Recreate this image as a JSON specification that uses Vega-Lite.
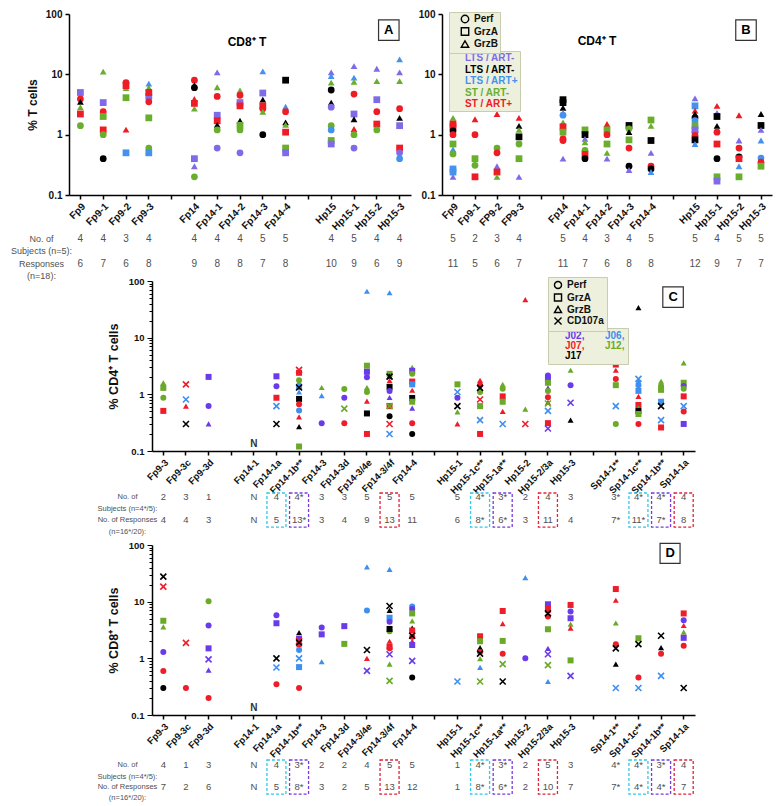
{
"$schema": "https://vega.github.io/schema/vega-lite/v6.json",
"background": "white",
"padding": {"left": 10, "top": 9, "right": 5, "bottom": 5},
"config": {
 "font": "Liberation Sans",
 "view": {"stroke": null},
 "axis": {"domainColor": "#000", "domainWidth": 1.5, "tickColor": "#000", "tickWidth": 1.5, "tickSize": 4, "labelFont": "Liberation Sans", "labelFontWeight": "bold", "labelFontSize": 10, "labelColor": "#111", "titleFont": "Liberation Sans", "titleFontWeight": "bold", "titleFontSize": 12, "titleColor": "#111", "grid": false},
 "axisX": {"labelAngle": -45, "labelPadding": 2},
 "legend": {"labelFont": "Liberation Sans"}
},
"datasets": {
 "A": [
  {"c":"Fp9","g":"LTS1/ART-","t":"GrzA","v":5.0},{"c":"Fp9","g":"ST/ART+","t":"Perf","v":3.9},{"c":"Fp9","g":"LTS2/ART-","t":"GrzB","v":3.5},{"c":"Fp9","g":"ST/ART-","t":"GrzB","v":2.85},{"c":"Fp9","g":"ST/ART+","t":"GrzA","v":2.2},{"c":"Fp9","g":"ST/ART-","t":"Perf","v":1.41},
  {"c":"Fp9-1","g":"ST/ART-","t":"GrzB","v":11.1},{"c":"Fp9-1","g":"LTS1/ART-","t":"GrzA","v":3.4},{"c":"Fp9-1","g":"ST/ART+","t":"Perf","v":2.4},{"c":"Fp9-1","g":"ST/ART-","t":"GrzA","v":2.0},{"c":"Fp9-1","g":"ST/ART+","t":"GrzA","v":1.2},{"c":"Fp9-1","g":"ST/ART-","t":"Perf","v":1.0},{"c":"Fp9-1","g":"LTS2/ART-","t":"Perf","v":0.4},
  {"c":"Fp9-2","g":"ST/ART-","t":"GrzB","v":5.9},{"c":"Fp9-2","g":"ST/ART+","t":"GrzA","v":6.5},{"c":"Fp9-2","g":"ST/ART+","t":"Perf","v":7.3},{"c":"Fp9-2","g":"ST/ART-","t":"GrzA","v":4.1},{"c":"Fp9-2","g":"ST/ART+","t":"GrzB","v":1.21},{"c":"Fp9-2","g":"LTS/ART+","t":"GrzA","v":0.5},
  {"c":"Fp9-3","g":"LTS/ART+","t":"GrzB","v":7.0},{"c":"Fp9-3","g":"ST/ART-","t":"GrzB","v":6.0},{"c":"Fp9-3","g":"LTS1/ART-","t":"GrzA","v":4.3},{"c":"Fp9-3","g":"ST/ART+","t":"GrzA","v":5.0},{"c":"Fp9-3","g":"ST/ART+","t":"Perf","v":3.5},{"c":"Fp9-3","g":"ST/ART-","t":"GrzA","v":1.9},{"c":"Fp9-3","g":"ST/ART-","t":"Perf","v":0.6},{"c":"Fp9-3","g":"LTS/ART+","t":"GrzA","v":0.5},
  {"c":"Fp14","g":"ST/ART+","t":"Perf","v":8.0},{"c":"Fp14","g":"LTS2/ART-","t":"GrzB","v":6.6},{"c":"Fp14","g":"LTS2/ART-","t":"Perf","v":6.0},{"c":"Fp14","g":"ST/ART-","t":"GrzB","v":2.7},{"c":"Fp14","g":"ST/ART+","t":"GrzB","v":3.9},{"c":"Fp14","g":"ST/ART+","t":"GrzA","v":3.3},{"c":"Fp14","g":"LTS1/ART-","t":"GrzA","v":0.4},{"c":"Fp14","g":"LTS1/ART-","t":"GrzB","v":0.3},{"c":"Fp14","g":"ST/ART-","t":"Perf","v":0.2},
  {"c":"Fp14-1","g":"LTS1/ART-","t":"GrzB","v":10.8},{"c":"Fp14-1","g":"ST/ART-","t":"GrzB","v":6.1},{"c":"Fp14-1","g":"ST/ART+","t":"Perf","v":4.3},{"c":"Fp14-1","g":"LTS1/ART-","t":"GrzA","v":2.1},{"c":"Fp14-1","g":"ST/ART+","t":"GrzA","v":1.7},{"c":"Fp14-1","g":"LTS2/ART-","t":"GrzB","v":1.45},{"c":"Fp14-1","g":"ST/ART-","t":"Perf","v":1.2},{"c":"Fp14-1","g":"LTS1/ART-","t":"Perf","v":0.6},
  {"c":"Fp14-2","g":"ST/ART-","t":"GrzB","v":5.4},{"c":"Fp14-2","g":"ST/ART+","t":"Perf","v":4.5},{"c":"Fp14-2","g":"LTS1/ART-","t":"GrzA","v":3.4},{"c":"Fp14-2","g":"ST/ART+","t":"GrzA","v":3.0},{"c":"Fp14-2","g":"LTS2/ART-","t":"GrzB","v":1.7},{"c":"Fp14-2","g":"ST/ART-","t":"GrzA","v":1.43},{"c":"Fp14-2","g":"ST/ART-","t":"Perf","v":1.2},{"c":"Fp14-2","g":"LTS1/ART-","t":"Perf","v":0.5},
  {"c":"Fp14-3","g":"LTS/ART+","t":"GrzB","v":11.2},{"c":"Fp14-3","g":"LTS1/ART-","t":"GrzA","v":4.9},{"c":"Fp14-3","g":"LTS2/ART-","t":"GrzB","v":3.8},{"c":"Fp14-3","g":"ST/ART+","t":"GrzA","v":3.0},{"c":"Fp14-3","g":"ST/ART+","t":"Perf","v":2.7},{"c":"Fp14-3","g":"ST/ART-","t":"GrzB","v":2.4},{"c":"Fp14-3","g":"LTS2/ART-","t":"Perf","v":1.0},
  {"c":"Fp14-4","g":"LTS2/ART-","t":"GrzA","v":8.0},{"c":"Fp14-4","g":"LTS/ART+","t":"GrzB","v":2.9},{"c":"Fp14-4","g":"ST/ART+","t":"Perf","v":2.4},{"c":"Fp14-4","g":"LTS2/ART-","t":"GrzB","v":1.6},{"c":"Fp14-4","g":"ST/ART-","t":"GrzB","v":1.45},{"c":"Fp14-4","g":"ST/ART+","t":"GrzA","v":1.1},{"c":"Fp14-4","g":"ST/ART-","t":"GrzA","v":0.6},{"c":"Fp14-4","g":"LTS1/ART-","t":"GrzA","v":0.5},
  {"c":"Hp15","g":"LTS1/ART-","t":"GrzB","v":10.8},{"c":"Hp15","g":"LTS/ART+","t":"GrzB","v":9.4},{"c":"Hp15","g":"ST/ART-","t":"GrzB","v":7.3},{"c":"Hp15","g":"LTS2/ART-","t":"Perf","v":5.5},{"c":"Hp15","g":"LTS2/ART-","t":"GrzB","v":3.4},{"c":"Hp15","g":"LTS1/ART-","t":"Perf","v":2.85},{"c":"Hp15","g":"ST/ART-","t":"Perf","v":1.41},{"c":"Hp15","g":"LTS/ART+","t":"Perf","v":1.2},{"c":"Hp15","g":"ST/ART-","t":"GrzA","v":0.8},{"c":"Hp15","g":"LTS1/ART-","t":"GrzA","v":0.7},
  {"c":"Hp15-1","g":"LTS1/ART-","t":"GrzB","v":13.7},{"c":"Hp15-1","g":"LTS/ART+","t":"GrzB","v":8.8},{"c":"Hp15-1","g":"ST/ART-","t":"GrzB","v":7.5},{"c":"Hp15-1","g":"ST/ART+","t":"Perf","v":4.7},{"c":"Hp15-1","g":"LTS1/ART-","t":"GrzA","v":2.2},{"c":"Hp15-1","g":"LTS2/ART-","t":"GrzB","v":1.8},{"c":"Hp15-1","g":"ST/ART+","t":"GrzB","v":1.24},{"c":"Hp15-1","g":"ST/ART-","t":"Perf","v":1.0},{"c":"Hp15-1","g":"LTS1/ART-","t":"Perf","v":0.6},
  {"c":"Hp15-2","g":"LTS1/ART-","t":"GrzB","v":12.4},{"c":"Hp15-2","g":"ST/ART-","t":"GrzB","v":7.7},{"c":"Hp15-2","g":"LTS1/ART-","t":"GrzA","v":3.8},{"c":"Hp15-2","g":"ST/ART+","t":"Perf","v":2.4},{"c":"Hp15-2","g":"ST/ART+","t":"GrzA","v":1.5},{"c":"Hp15-2","g":"ST/ART-","t":"Perf","v":1.2},
  {"c":"Hp15-3","g":"LTS/ART+","t":"GrzB","v":17.7},{"c":"Hp15-3","g":"LTS1/ART-","t":"GrzB","v":10.8},{"c":"Hp15-3","g":"ST/ART-","t":"GrzB","v":7.7},{"c":"Hp15-3","g":"ST/ART+","t":"Perf","v":2.7},{"c":"Hp15-3","g":"LTS2/ART-","t":"GrzB","v":1.9},{"c":"Hp15-3","g":"LTS1/ART-","t":"GrzA","v":1.41},{"c":"Hp15-3","g":"ST/ART+","t":"GrzA","v":0.6},{"c":"Hp15-3","g":"LTS1/ART-","t":"Perf","v":0.5},{"c":"Hp15-3","g":"LTS/ART+","t":"Perf","v":0.4}
 ],
 "B": [
  {"c":"Fp9","g":"ST/ART-","t":"GrzB","v":1.9},{"c":"Fp9","g":"ST/ART+","t":"GrzA","v":1.5},{"c":"Fp9","g":"ST/ART+","t":"GrzA","v":1.35},{"c":"Fp9","g":"LTS2/ART-","t":"Perf","v":1.15},{"c":"Fp9","g":"ST/ART+","t":"Perf","v":1.0},{"c":"Fp9","g":"ST/ART-","t":"GrzA","v":0.7},{"c":"Fp9","g":"LTS/ART+","t":"GrzB","v":0.57},{"c":"Fp9","g":"ST/ART-","t":"Perf","v":0.48},{"c":"Fp9","g":"LTS/ART+","t":"GrzA","v":0.27},{"c":"Fp9","g":"LTS/ART+","t":"GrzA","v":0.24},{"c":"Fp9","g":"LTS1/ART-","t":"GrzB","v":0.2},
  {"c":"Fp9-1","g":"ST/ART+","t":"GrzB","v":1.8},{"c":"Fp9-1","g":"ST/ART+","t":"Perf","v":1.0},{"c":"Fp9-1","g":"ST/ART-","t":"GrzA","v":0.4},{"c":"Fp9-1","g":"ST/ART-","t":"Perf","v":0.31},{"c":"Fp9-1","g":"ST/ART+","t":"GrzA","v":0.2},
  {"c":"FP9-2","g":"ST/ART+","t":"GrzB","v":2.2},{"c":"FP9-2","g":"ST/ART-","t":"Perf","v":0.6},{"c":"FP9-2","g":"ST/ART+","t":"Perf","v":0.5},{"c":"FP9-2","g":"LTS1/ART-","t":"GrzB","v":0.3},{"c":"FP9-2","g":"ST/ART+","t":"GrzA","v":0.24},{"c":"FP9-2","g":"ST/ART-","t":"GrzB","v":0.2},
  {"c":"FP9-3","g":"ST/ART+","t":"GrzB","v":1.9},{"c":"FP9-3","g":"LTS2/ART-","t":"GrzB","v":1.4},{"c":"FP9-3","g":"ST/ART-","t":"GrzB","v":1.2},{"c":"FP9-3","g":"LTS2/ART-","t":"GrzA","v":0.92},{"c":"FP9-3","g":"ST/ART-","t":"Perf","v":0.7},{"c":"FP9-3","g":"ST/ART-","t":"GrzA","v":0.4},{"c":"FP9-3","g":"LTS1/ART-","t":"GrzB","v":0.2},
  {"c":"Fp14","g":"LTS2/ART-","t":"GrzA","v":3.8},{"c":"Fp14","g":"LTS2/ART-","t":"GrzA","v":3.4},{"c":"Fp14","g":"LTS2/ART-","t":"GrzB","v":2.8},{"c":"Fp14","g":"LTS/ART+","t":"GrzB","v":2.3},{"c":"Fp14","g":"LTS/ART+","t":"Perf","v":2.1},{"c":"Fp14","g":"ST/ART-","t":"GrzB","v":1.6},{"c":"Fp14","g":"ST/ART+","t":"GrzA","v":1.35},{"c":"Fp14","g":"ST/ART-","t":"GrzA","v":1.1},{"c":"Fp14","g":"ST/ART+","t":"Perf","v":0.85},{"c":"Fp14","g":"ST/ART+","t":"Perf","v":0.8},{"c":"Fp14","g":"LTS1/ART-","t":"GrzB","v":0.4},
  {"c":"Fp14-1","g":"ST/ART-","t":"GrzA","v":1.2},{"c":"Fp14-1","g":"LTS2/ART-","t":"GrzA","v":1.0},{"c":"Fp14-1","g":"LTS1/ART-","t":"GrzB","v":0.85},{"c":"Fp14-1","g":"ST/ART-","t":"GrzB","v":0.75},{"c":"Fp14-1","g":"ST/ART-","t":"Perf","v":0.55},{"c":"Fp14-1","g":"ST/ART+","t":"GrzA","v":0.47},{"c":"Fp14-1","g":"LTS2/ART-","t":"Perf","v":0.4},
  {"c":"Fp14-2","g":"ST/ART+","t":"GrzB","v":1.5},{"c":"Fp14-2","g":"ST/ART-","t":"GrzA","v":1.2},{"c":"Fp14-2","g":"ST/ART+","t":"Perf","v":1.0},{"c":"Fp14-2","g":"ST/ART-","t":"GrzA","v":0.7},{"c":"Fp14-2","g":"ST/ART-","t":"GrzB","v":0.5},{"c":"Fp14-2","g":"LTS1/ART-","t":"GrzB","v":0.4},
  {"c":"Fp14-3","g":"LTS2/ART-","t":"GrzA","v":1.42},{"c":"Fp14-3","g":"ST/ART-","t":"Perf","v":1.25},{"c":"Fp14-3","g":"LTS2/ART-","t":"GrzB","v":1.1},{"c":"Fp14-3","g":"ST/ART-","t":"GrzA","v":0.82},{"c":"Fp14-3","g":"ST/ART+","t":"Perf","v":0.6},{"c":"Fp14-3","g":"LTS2/ART-","t":"Perf","v":0.3},{"c":"Fp14-3","g":"LTS1/ART-","t":"GrzB","v":0.26},
  {"c":"Fp14-4","g":"ST/ART-","t":"GrzA","v":1.75},{"c":"Fp14-4","g":"ST/ART-","t":"GrzB","v":1.4},{"c":"Fp14-4","g":"LTS2/ART-","t":"GrzA","v":0.8},{"c":"Fp14-4","g":"LTS1/ART-","t":"GrzB","v":0.5},{"c":"Fp14-4","g":"ST/ART+","t":"Perf","v":0.3},{"c":"Fp14-4","g":"LTS2/ART-","t":"Perf","v":0.27},{"c":"Fp14-4","g":"LTS/ART+","t":"GrzB","v":0.24},
  {"c":"Hp15","g":"LTS1/ART-","t":"GrzB","v":4.0},{"c":"Hp15","g":"LTS/ART+","t":"GrzA","v":3.0},{"c":"Hp15","g":"ST/ART+","t":"GrzB","v":2.5},{"c":"Hp15","g":"LTS2/ART-","t":"GrzB","v":2.2},{"c":"Hp15","g":"LTS2/ART-","t":"Perf","v":1.9},{"c":"Hp15","g":"LTS/ART+","t":"Perf","v":1.7},{"c":"Hp15","g":"ST/ART-","t":"GrzA","v":1.4},{"c":"Hp15","g":"LTS1/ART-","t":"GrzA","v":1.2},{"c":"Hp15","g":"LTS1/ART-","t":"Perf","v":1.1},{"c":"Hp15","g":"ST/ART+","t":"Perf","v":0.97},{"c":"Hp15","g":"LTS2/ART-","t":"GrzA","v":0.82},{"c":"Hp15","g":"LTS/ART+","t":"GrzB","v":0.7},
  {"c":"Hp15-1","g":"ST/ART+","t":"GrzB","v":3.0},{"c":"Hp15-1","g":"LTS1/ART-","t":"GrzB","v":2.3},{"c":"Hp15-1","g":"LTS2/ART-","t":"GrzA","v":2.0},{"c":"Hp15-1","g":"LTS2/ART-","t":"GrzB","v":1.4},{"c":"Hp15-1","g":"ST/ART+","t":"Perf","v":1.1},{"c":"Hp15-1","g":"ST/ART+","t":"GrzA","v":0.7},{"c":"Hp15-1","g":"LTS2/ART-","t":"Perf","v":0.4},{"c":"Hp15-1","g":"ST/ART-","t":"GrzA","v":0.2},{"c":"Hp15-1","g":"LTS1/ART-","t":"GrzA","v":0.17},
  {"c":"Hp15-2","g":"ST/ART+","t":"GrzB","v":2.1},{"c":"Hp15-2","g":"LTS1/ART-","t":"GrzB","v":0.8},{"c":"Hp15-2","g":"ST/ART+","t":"Perf","v":0.6},{"c":"Hp15-2","g":"LTS2/ART-","t":"Perf","v":0.43},{"c":"Hp15-2","g":"ST/ART+","t":"GrzA","v":0.4},{"c":"Hp15-2","g":"LTS/ART+","t":"GrzB","v":0.3},{"c":"Hp15-2","g":"ST/ART-","t":"GrzA","v":0.2},
  {"c":"Hp15-3","g":"LTS2/ART-","t":"GrzB","v":2.2},{"c":"Hp15-3","g":"LTS2/ART-","t":"GrzA","v":1.42},{"c":"Hp15-3","g":"LTS1/ART-","t":"GrzB","v":1.2},{"c":"Hp15-3","g":"LTS/ART+","t":"GrzB","v":0.8},{"c":"Hp15-3","g":"LTS/ART+","t":"Perf","v":0.41},{"c":"Hp15-3","g":"ST/ART+","t":"Perf","v":0.35},{"c":"Hp15-3","g":"ST/ART-","t":"GrzA","v":0.3}
 ],
 "C": [
  {"c":"Fp9-3","d":"J12","t":"GrzB","v":1.6},{"c":"Fp9-3","d":"J12","t":"GrzA","v":1.3},{"c":"Fp9-3","d":"J12","t":"Perf","v":0.87},{"c":"Fp9-3","d":"J07","t":"GrzA","v":0.51},
  {"c":"Fp9-3c","d":"J07","t":"CD107a","v":1.5},{"c":"Fp9-3c","d":"J06","t":"CD107a","v":0.81},{"c":"Fp9-3c","d":"J07","t":"GrzB","v":0.62},{"c":"Fp9-3c","d":"J17","t":"CD107a","v":0.3},
  {"c":"Fp9-3d","d":"J02","t":"GrzA","v":2.03},{"c":"Fp9-3d","d":"J02","t":"Perf","v":0.62},{"c":"Fp9-3d","d":"J02","t":"GrzB","v":0.3},
  {"c":"Fp14-1a","d":"J02","t":"GrzA","v":2.08},{"c":"Fp14-1a","d":"J02","t":"Perf","v":1.39},{"c":"Fp14-1a","d":"J07","t":"GrzA","v":0.87},{"c":"Fp14-1a","d":"J06","t":"CD107a","v":0.62},{"c":"Fp14-1a","d":"J17","t":"CD107a","v":0.3},
  {"c":"Fp14-1b**","d":"J07","t":"CD107a","v":2.7},{"c":"Fp14-1b**","d":"J07","t":"GrzA","v":2.4},{"c":"Fp14-1b**","d":"J12","t":"GrzB","v":1.65},{"c":"Fp14-1b**","d":"J12","t":"Perf","v":1.77},{"c":"Fp14-1b**","d":"J06","t":"GrzA","v":1.35},{"c":"Fp14-1b**","d":"J17","t":"CD107a","v":1.32},{"c":"Fp14-1b**","d":"J06","t":"GrzB","v":1.1},{"c":"Fp14-1b**","d":"J17","t":"GrzA","v":0.83},{"c":"Fp14-1b**","d":"J07","t":"Perf","v":0.67},{"c":"Fp14-1b**","d":"J06","t":"Perf","v":0.52},{"c":"Fp14-1b**","d":"J07","t":"GrzB","v":0.4},{"c":"Fp14-1b**","d":"J17","t":"GrzB","v":0.27},{"c":"Fp14-1b**","d":"J12","t":"GrzA","v":0.12},
  {"c":"Fp14-3","d":"J12","t":"GrzB","v":1.32},{"c":"Fp14-3","d":"J06","t":"GrzB","v":0.95},{"c":"Fp14-3","d":"J02","t":"Perf","v":0.31},
  {"c":"Fp14-3d","d":"J12","t":"Perf","v":1.24},{"c":"Fp14-3d","d":"J02","t":"Perf","v":0.87},{"c":"Fp14-3d","d":"J12","t":"CD107a","v":0.56},{"c":"Fp14-3d","d":"J07","t":"Perf","v":0.31},
  {"c":"Fp14-3/4e","d":"J06","t":"GrzB","v":66},{"c":"Fp14-3/4e","d":"J12","t":"GrzA","v":3.2},{"c":"Fp14-3/4e","d":"J02","t":"GrzA","v":2.5},{"c":"Fp14-3/4e","d":"J02","t":"Perf","v":2.0},{"c":"Fp14-3/4e","d":"J12","t":"GrzB","v":1.32},{"c":"Fp14-3/4e","d":"J12","t":"Perf","v":1.1},{"c":"Fp14-3/4e","d":"J07","t":"GrzB","v":0.76},{"c":"Fp14-3/4e","d":"J17","t":"GrzA","v":0.46},{"c":"Fp14-3/4e","d":"J07","t":"GrzA","v":0.2},
  {"c":"Fp14-3/4f","d":"J06","t":"GrzB","v":62},{"c":"Fp14-3/4f","d":"J12","t":"GrzA","v":2.3},{"c":"Fp14-3/4f","d":"J17","t":"GrzB","v":2.1},{"c":"Fp14-3/4f","d":"J17","t":"CD107a","v":2.05},{"c":"Fp14-3/4f","d":"J07","t":"GrzB","v":1.75},{"c":"Fp14-3/4f","d":"J17","t":"GrzA","v":1.35},{"c":"Fp14-3/4f","d":"J02","t":"Perf","v":1.15},{"c":"Fp14-3/4f","d":"J02","t":"GrzB","v":0.88},{"c":"Fp14-3/4f","d":"J07","t":"GrzA","v":0.62},{"c":"Fp14-3/4f","d":"J12","t":"CD107a","v":0.62},{"c":"Fp14-3/4f","d":"J17","t":"Perf","v":0.41},{"c":"Fp14-3/4f","d":"J07","t":"CD107a","v":0.3},{"c":"Fp14-3/4f","d":"J06","t":"CD107a","v":0.2},
  {"c":"Fp14-4","d":"J12","t":"GrzB","v":3.0},{"c":"Fp14-4","d":"J02","t":"GrzA","v":2.6},{"c":"Fp14-4","d":"J12","t":"Perf","v":2.3},{"c":"Fp14-4","d":"J07","t":"GrzA","v":1.68},{"c":"Fp14-4","d":"J06","t":"GrzA","v":1.5},{"c":"Fp14-4","d":"J07","t":"GrzB","v":1.18},{"c":"Fp14-4","d":"J17","t":"GrzA","v":0.86},{"c":"Fp14-4","d":"J12","t":"GrzA","v":0.74},{"c":"Fp14-4","d":"J02","t":"GrzB","v":0.57},{"c":"Fp14-4","d":"J07","t":"Perf","v":0.31},{"c":"Fp14-4","d":"J17","t":"Perf","v":0.2},
  {"c":"Hp15-1","d":"J12","t":"GrzA","v":1.5},{"c":"Hp15-1","d":"J06","t":"CD107a","v":1.1},{"c":"Hp15-1","d":"J02","t":"Perf","v":0.87},{"c":"Hp15-1","d":"J17","t":"CD107a","v":0.62},{"c":"Hp15-1","d":"J12","t":"GrzB","v":0.49},{"c":"Hp15-1","d":"J07","t":"GrzB","v":0.3},
  {"c":"Hp15-1c**","d":"J07","t":"GrzB","v":1.77},{"c":"Hp15-1c**","d":"J07","t":"Perf","v":1.45},{"c":"Hp15-1c**","d":"J17","t":"CD107a","v":1.3},{"c":"Hp15-1c**","d":"J12","t":"Perf","v":1.1},{"c":"Hp15-1c**","d":"J07","t":"CD107a","v":0.81},{"c":"Hp15-1c**","d":"J12","t":"GrzA","v":0.62},{"c":"Hp15-1c**","d":"J06","t":"CD107a","v":0.35},{"c":"Hp15-1c**","d":"J07","t":"GrzA","v":0.2},
  {"c":"Hp15-1a**","d":"J12","t":"GrzB","v":1.5},{"c":"Hp15-1a**","d":"J12","t":"Perf","v":1.25},{"c":"Hp15-1a**","d":"J07","t":"GrzA","v":0.92},{"c":"Hp15-1a**","d":"J12","t":"GrzA","v":0.74},{"c":"Hp15-1a**","d":"J07","t":"GrzB","v":0.5},{"c":"Hp15-1a**","d":"J06","t":"CD107a","v":0.3},
  {"c":"Hp15-2","d":"J07","t":"GrzB","v":47},{"c":"Hp15-2","d":"J12","t":"GrzB","v":0.55},{"c":"Hp15-2","d":"J07","t":"CD107a","v":0.3},
  {"c":"Hp15-2/3a","d":"J02","t":"Perf","v":2.15},{"c":"Hp15-2/3a","d":"J02","t":"GrzA","v":1.85},{"c":"Hp15-2/3a","d":"J12","t":"GrzA","v":1.6},{"c":"Hp15-2/3a","d":"J02","t":"GrzB","v":1.3},{"c":"Hp15-2/3a","d":"J12","t":"Perf","v":1.15},{"c":"Hp15-2/3a","d":"J07","t":"Perf","v":0.89},{"c":"Hp15-2/3a","d":"J07","t":"GrzB","v":0.72},{"c":"Hp15-2/3a","d":"J12","t":"CD107a","v":0.69},{"c":"Hp15-2/3a","d":"J06","t":"CD107a","v":0.51},{"c":"Hp15-2/3a","d":"J07","t":"GrzA","v":0.31},{"c":"Hp15-2/3a","d":"J02","t":"CD107a","v":0.25},
  {"c":"Hp15-3","d":"J12","t":"GrzB","v":2.66},{"c":"Hp15-3","d":"J02","t":"Perf","v":1.45},{"c":"Hp15-3","d":"J02","t":"CD107a","v":0.71},{"c":"Hp15-3","d":"J17","t":"GrzB","v":0.35},
  {"c":"Sp14-1**","d":"J12","t":"GrzB","v":4.96},{"c":"Sp14-1**","d":"J07","t":"GrzA","v":3.35},{"c":"Sp14-1**","d":"J07","t":"GrzB","v":2.66},{"c":"Sp14-1**","d":"J07","t":"Perf","v":1.87},{"c":"Sp14-1**","d":"J12","t":"GrzA","v":1.45},{"c":"Sp14-1**","d":"J06","t":"CD107a","v":0.62},{"c":"Sp14-1**","d":"J12","t":"Perf","v":0.3},
  {"c":"Sp14-1c**","d":"J17","t":"GrzB","v":34},{"c":"Sp14-1c**","d":"J06","t":"CD107a","v":1.87},{"c":"Sp14-1c**","d":"J06","t":"GrzB","v":1.7},{"c":"Sp14-1c**","d":"J06","t":"Perf","v":1.45},{"c":"Sp14-1c**","d":"J06","t":"GrzA","v":1.15},{"c":"Sp14-1c**","d":"J07","t":"GrzB","v":0.92},{"c":"Sp14-1c**","d":"J07","t":"GrzA","v":0.65},{"c":"Sp14-1c**","d":"J12","t":"GrzB","v":0.58},{"c":"Sp14-1c**","d":"J17","t":"GrzA","v":0.51},{"c":"Sp14-1c**","d":"J12","t":"GrzA","v":0.45},{"c":"Sp14-1c**","d":"J07","t":"Perf","v":0.3},
  {"c":"Sp14-1b**","d":"J12","t":"GrzB","v":1.7},{"c":"Sp14-1b**","d":"J12","t":"Perf","v":1.4},{"c":"Sp14-1b**","d":"J12","t":"GrzA","v":1.2},{"c":"Sp14-1b**","d":"J06","t":"GrzA","v":0.74},{"c":"Sp14-1b**","d":"J17","t":"CD107a","v":0.62},{"c":"Sp14-1b**","d":"J06","t":"CD107a","v":0.35},{"c":"Sp14-1b**","d":"J07","t":"GrzA","v":0.26},
  {"c":"Sp14-1a","d":"J12","t":"GrzB","v":3.58},{"c":"Sp14-1a","d":"J12","t":"GrzA","v":1.6},{"c":"Sp14-1a","d":"J02","t":"Perf","v":1.4},{"c":"Sp14-1a","d":"J12","t":"Perf","v":1.25},{"c":"Sp14-1a","d":"J07","t":"GrzA","v":0.92},{"c":"Sp14-1a","d":"J06","t":"CD107a","v":0.62},{"c":"Sp14-1a","d":"J07","t":"Perf","v":0.5},{"c":"Sp14-1a","d":"J02","t":"GrzA","v":0.3}
 ],
 "D": [
  {"c":"Fp9-3","d":"J17","t":"CD107a","v":27.6},{"c":"Fp9-3","d":"J07","t":"CD107a","v":18.4},{"c":"Fp9-3","d":"J12","t":"GrzA","v":4.6},{"c":"Fp9-3","d":"J12","t":"GrzB","v":3.6},{"c":"Fp9-3","d":"J02","t":"Perf","v":1.3},{"c":"Fp9-3","d":"J07","t":"Perf","v":0.6},{"c":"Fp9-3","d":"J17","t":"Perf","v":0.3},
  {"c":"Fp9-3c","d":"J07","t":"CD107a","v":1.87},{"c":"Fp9-3c","d":"J07","t":"Perf","v":0.3},
  {"c":"Fp9-3d","d":"J12","t":"Perf","v":10.2},{"c":"Fp9-3d","d":"J02","t":"Perf","v":3.8},{"c":"Fp9-3d","d":"J02","t":"GrzA","v":1.5},{"c":"Fp9-3d","d":"J02","t":"CD107a","v":0.96},{"c":"Fp9-3d","d":"J02","t":"GrzB","v":0.62},{"c":"Fp9-3d","d":"J07","t":"Perf","v":0.2},
  {"c":"Fp14-1a","d":"J02","t":"Perf","v":5.75},{"c":"Fp14-1a","d":"J02","t":"GrzA","v":4.16},{"c":"Fp14-1a","d":"J17","t":"CD107a","v":1.0},{"c":"Fp14-1a","d":"J06","t":"CD107a","v":0.69},{"c":"Fp14-1a","d":"J07","t":"Perf","v":0.35},
  {"c":"Fp14-1b**","d":"J17","t":"GrzB","v":2.84},{"c":"Fp14-1b**","d":"J02","t":"GrzA","v":2.2},{"c":"Fp14-1b**","d":"J07","t":"CD107a","v":2.03},{"c":"Fp14-1b**","d":"J17","t":"CD107a","v":1.9},{"c":"Fp14-1b**","d":"J07","t":"GrzB","v":1.75},{"c":"Fp14-1b**","d":"J06","t":"Perf","v":1.41},{"c":"Fp14-1b**","d":"J06","t":"CD107a","v":1.0},{"c":"Fp14-1b**","d":"J06","t":"GrzA","v":0.7},{"c":"Fp14-1b**","d":"J07","t":"Perf","v":0.3},
  {"c":"Fp14-3","d":"J02","t":"Perf","v":3.5},{"c":"Fp14-3","d":"J02","t":"GrzA","v":2.65},{"c":"Fp14-3","d":"J06","t":"GrzB","v":0.87},
  {"c":"Fp14-3d","d":"J02","t":"GrzA","v":3.7},{"c":"Fp14-3d","d":"J12","t":"GrzA","v":1.8},
  {"c":"Fp14-3/4e","d":"J06","t":"GrzB","v":41},{"c":"Fp14-3/4e","d":"J06","t":"Perf","v":7.0},{"c":"Fp14-3/4e","d":"J17","t":"CD107a","v":1.4},{"c":"Fp14-3/4e","d":"J07","t":"GrzB","v":1.0},{"c":"Fp14-3/4e","d":"J02","t":"CD107a","v":0.6},
  {"c":"Fp14-3/4f","d":"J06","t":"GrzB","v":37},{"c":"Fp14-3/4f","d":"J17","t":"CD107a","v":8.4},{"c":"Fp14-3/4f","d":"J17","t":"GrzB","v":7.0},{"c":"Fp14-3/4f","d":"J06","t":"GrzA","v":5.2},{"c":"Fp14-3/4f","d":"J02","t":"Perf","v":4.4},{"c":"Fp14-3/4f","d":"J12","t":"Perf","v":3.0},{"c":"Fp14-3/4f","d":"J17","t":"GrzA","v":3.3},{"c":"Fp14-3/4f","d":"J07","t":"GrzB","v":2.0},{"c":"Fp14-3/4f","d":"J07","t":"GrzA","v":1.6},{"c":"Fp14-3/4f","d":"J07","t":"Perf","v":1.5},{"c":"Fp14-3/4f","d":"J02","t":"CD107a","v":1.18},{"c":"Fp14-3/4f","d":"J12","t":"GrzB","v":0.79},{"c":"Fp14-3/4f","d":"J12","t":"CD107a","v":0.4},
  {"c":"Fp14-4","d":"J06","t":"Perf","v":8.2},{"c":"Fp14-4","d":"J02","t":"Perf","v":7.4},{"c":"Fp14-4","d":"J12","t":"GrzA","v":6.2},{"c":"Fp14-4","d":"J12","t":"GrzB","v":4.6},{"c":"Fp14-4","d":"J17","t":"GrzB","v":3.4},{"c":"Fp14-4","d":"J07","t":"GrzA","v":3.1},{"c":"Fp14-4","d":"J17","t":"CD107a","v":2.5},{"c":"Fp14-4","d":"J07","t":"Perf","v":2.4},{"c":"Fp14-4","d":"J07","t":"GrzB","v":2.0},{"c":"Fp14-4","d":"J02","t":"GrzA","v":1.72},{"c":"Fp14-4","d":"J02","t":"CD107a","v":0.9},{"c":"Fp14-4","d":"J17","t":"Perf","v":0.46},
  {"c":"Hp15-1","d":"J06","t":"CD107a","v":0.39},
  {"c":"Hp15-1c**","d":"J07","t":"GrzA","v":2.45},{"c":"Hp15-1c**","d":"J12","t":"GrzA","v":2.0},{"c":"Hp15-1c**","d":"J17","t":"GrzB","v":1.55},{"c":"Hp15-1c**","d":"J07","t":"Perf","v":1.3},{"c":"Hp15-1c**","d":"J17","t":"CD107a","v":1.21},{"c":"Hp15-1c**","d":"J12","t":"GrzB","v":0.99},{"c":"Hp15-1c**","d":"J06","t":"GrzB","v":0.69},{"c":"Hp15-1c**","d":"J12","t":"CD107a","v":0.39},
  {"c":"Hp15-1a**","d":"J07","t":"GrzA","v":6.85},{"c":"Hp15-1a**","d":"J07","t":"GrzB","v":4.1},{"c":"Hp15-1a**","d":"J12","t":"GrzA","v":2.03},{"c":"Hp15-1a**","d":"J07","t":"Perf","v":1.21},{"c":"Hp15-1a**","d":"J12","t":"CD107a","v":0.79},{"c":"Hp15-1a**","d":"J17","t":"CD107a","v":0.39},
  {"c":"Hp15-2","d":"J06","t":"GrzB","v":26.5},{"c":"Hp15-2","d":"J02","t":"Perf","v":1.0},
  {"c":"Hp15-2/3a","d":"J02","t":"GrzA","v":9.0},{"c":"Hp15-2/3a","d":"J07","t":"GrzA","v":7.6},{"c":"Hp15-2/3a","d":"J07","t":"GrzB","v":7.0},{"c":"Hp15-2/3a","d":"J17","t":"CD107a","v":6.2},{"c":"Hp15-2/3a","d":"J07","t":"Perf","v":5.5},{"c":"Hp15-2/3a","d":"J12","t":"GrzA","v":3.26},{"c":"Hp15-2/3a","d":"J02","t":"GrzB","v":1.5},{"c":"Hp15-2/3a","d":"J02","t":"CD107a","v":1.18},{"c":"Hp15-2/3a","d":"J12","t":"CD107a","v":0.76},{"c":"Hp15-2/3a","d":"J06","t":"GrzB","v":0.39},
  {"c":"Hp15-3","d":"J07","t":"GrzA","v":8.75},{"c":"Hp15-3","d":"J02","t":"Perf","v":6.7},{"c":"Hp15-3","d":"J02","t":"GrzA","v":5.1},{"c":"Hp15-3","d":"J12","t":"GrzB","v":4.0},{"c":"Hp15-3","d":"J07","t":"GrzB","v":3.4},{"c":"Hp15-3","d":"J12","t":"GrzA","v":0.92},{"c":"Hp15-3","d":"J02","t":"CD107a","v":0.49},
  {"c":"Sp14-1**","d":"J07","t":"GrzA","v":16.7},{"c":"Sp14-1**","d":"J07","t":"GrzB","v":10.6},{"c":"Sp14-1**","d":"J12","t":"GrzB","v":4.2},{"c":"Sp14-1**","d":"J07","t":"Perf","v":1.78},{"c":"Sp14-1**","d":"J17","t":"CD107a","v":1.5},{"c":"Sp14-1**","d":"J17","t":"GrzB","v":0.79},{"c":"Sp14-1**","d":"J06","t":"CD107a","v":0.3},
  {"c":"Sp14-1c**","d":"J12","t":"GrzA","v":2.26},{"c":"Sp14-1c**","d":"J17","t":"CD107a","v":1.78},{"c":"Sp14-1c**","d":"J07","t":"Perf","v":0.46},{"c":"Sp14-1c**","d":"J06","t":"CD107a","v":0.3},
  {"c":"Sp14-1b**","d":"J17","t":"CD107a","v":2.5},{"c":"Sp14-1b**","d":"J17","t":"GrzB","v":1.55},{"c":"Sp14-1b**","d":"J07","t":"Perf","v":1.21},{"c":"Sp14-1b**","d":"J06","t":"CD107a","v":0.49},
  {"c":"Sp14-1a","d":"J07","t":"GrzA","v":6.2},{"c":"Sp14-1a","d":"J02","t":"Perf","v":4.7},{"c":"Sp14-1a","d":"J07","t":"GrzB","v":3.8},{"c":"Sp14-1a","d":"J12","t":"GrzB","v":2.9},{"c":"Sp14-1a","d":"J02","t":"GrzA","v":2.3},{"c":"Sp14-1a","d":"J07","t":"Perf","v":1.67},{"c":"Sp14-1a","d":"J17","t":"CD107a","v":0.3}
 ],
 "tA": [
  {"c":"Fp9","r":"Subjects","n":"4"},{"c":"Fp9-1","r":"Subjects","n":"4"},{"c":"Fp9-2","r":"Subjects","n":"3"},{"c":"Fp9-3","r":"Subjects","n":"4"},{"c":"Fp14","r":"Subjects","n":"4"},{"c":"Fp14-1","r":"Subjects","n":"4"},{"c":"Fp14-2","r":"Subjects","n":"4"},{"c":"Fp14-3","r":"Subjects","n":"5"},{"c":"Fp14-4","r":"Subjects","n":"5"},{"c":"Hp15","r":"Subjects","n":"4"},{"c":"Hp15-1","r":"Subjects","n":"5"},{"c":"Hp15-2","r":"Subjects","n":"4"},{"c":"Hp15-3","r":"Subjects","n":"4"},
  {"c":"Fp9","r":"Responses","n":"6"},{"c":"Fp9-1","r":"Responses","n":"7"},{"c":"Fp9-2","r":"Responses","n":"6"},{"c":"Fp9-3","r":"Responses","n":"8"},{"c":"Fp14","r":"Responses","n":"9"},{"c":"Fp14-1","r":"Responses","n":"8"},{"c":"Fp14-2","r":"Responses","n":"8"},{"c":"Fp14-3","r":"Responses","n":"7"},{"c":"Fp14-4","r":"Responses","n":"8"},{"c":"Hp15","r":"Responses","n":"10"},{"c":"Hp15-1","r":"Responses","n":"9"},{"c":"Hp15-2","r":"Responses","n":"6"},{"c":"Hp15-3","r":"Responses","n":"9"}
 ],
 "tB": [
  {"c":"Fp9","r":"Subjects","n":"5"},{"c":"Fp9-1","r":"Subjects","n":"2"},{"c":"FP9-2","r":"Subjects","n":"3"},{"c":"FP9-3","r":"Subjects","n":"4"},{"c":"Fp14","r":"Subjects","n":"5"},{"c":"Fp14-1","r":"Subjects","n":"4"},{"c":"Fp14-2","r":"Subjects","n":"3"},{"c":"Fp14-3","r":"Subjects","n":"4"},{"c":"Fp14-4","r":"Subjects","n":"5"},{"c":"Hp15","r":"Subjects","n":"5"},{"c":"Hp15-1","r":"Subjects","n":"4"},{"c":"Hp15-2","r":"Subjects","n":"5"},{"c":"Hp15-3","r":"Subjects","n":"5"},
  {"c":"Fp9","r":"Responses","n":"11"},{"c":"Fp9-1","r":"Responses","n":"5"},{"c":"FP9-2","r":"Responses","n":"6"},{"c":"FP9-3","r":"Responses","n":"7"},{"c":"Fp14","r":"Responses","n":"11"},{"c":"Fp14-1","r":"Responses","n":"7"},{"c":"Fp14-2","r":"Responses","n":"6"},{"c":"Fp14-3","r":"Responses","n":"8"},{"c":"Fp14-4","r":"Responses","n":"8"},{"c":"Hp15","r":"Responses","n":"12"},{"c":"Hp15-1","r":"Responses","n":"9"},{"c":"Hp15-2","r":"Responses","n":"7"},{"c":"Hp15-3","r":"Responses","n":"7"}
 ],
 "tC": [
  {"c":"Fp9-3","r":"Subjects","n":"2"},{"c":"Fp9-3c","r":"Subjects","n":"3"},{"c":"Fp9-3d","r":"Subjects","n":"1"},{"c":"Fp14-1","r":"Subjects","n":"N"},{"c":"Fp14-1a","r":"Subjects","n":"4"},{"c":"Fp14-1b**","r":"Subjects","n":"4*"},{"c":"Fp14-3","r":"Subjects","n":"3"},{"c":"Fp14-3d","r":"Subjects","n":"3"},{"c":"Fp14-3/4e","r":"Subjects","n":"5"},{"c":"Fp14-3/4f","r":"Subjects","n":"5"},{"c":"Fp14-4","r":"Subjects","n":"5"},{"c":"Hp15-1","r":"Subjects","n":"5"},{"c":"Hp15-1c**","r":"Subjects","n":"4*"},{"c":"Hp15-1a**","r":"Subjects","n":"3*"},{"c":"Hp15-2","r":"Subjects","n":"2"},{"c":"Hp15-2/3a","r":"Subjects","n":"4"},{"c":"Hp15-3","r":"Subjects","n":"3"},{"c":"Sp14-1**","r":"Subjects","n":"3*"},{"c":"Sp14-1c**","r":"Subjects","n":"4*"},{"c":"Sp14-1b**","r":"Subjects","n":"4*"},{"c":"Sp14-1a","r":"Subjects","n":"4"},
  {"c":"Fp9-3","r":"Responses","n":"4"},{"c":"Fp9-3c","r":"Responses","n":"4"},{"c":"Fp9-3d","r":"Responses","n":"3"},{"c":"Fp14-1","r":"Responses","n":"N"},{"c":"Fp14-1a","r":"Responses","n":"5"},{"c":"Fp14-1b**","r":"Responses","n":"13*"},{"c":"Fp14-3","r":"Responses","n":"3"},{"c":"Fp14-3d","r":"Responses","n":"4"},{"c":"Fp14-3/4e","r":"Responses","n":"9"},{"c":"Fp14-3/4f","r":"Responses","n":"13"},{"c":"Fp14-4","r":"Responses","n":"11"},{"c":"Hp15-1","r":"Responses","n":"6"},{"c":"Hp15-1c**","r":"Responses","n":"8*"},{"c":"Hp15-1a**","r":"Responses","n":"6*"},{"c":"Hp15-2","r":"Responses","n":"3"},{"c":"Hp15-2/3a","r":"Responses","n":"11"},{"c":"Hp15-3","r":"Responses","n":"4"},{"c":"Sp14-1**","r":"Responses","n":"7*"},{"c":"Sp14-1c**","r":"Responses","n":"11*"},{"c":"Sp14-1b**","r":"Responses","n":"7*"},{"c":"Sp14-1a","r":"Responses","n":"8"}
 ],
 "tD": [
  {"c":"Fp9-3","r":"Subjects","n":"4"},{"c":"Fp9-3c","r":"Subjects","n":"1"},{"c":"Fp9-3d","r":"Subjects","n":"3"},{"c":"Fp14-1","r":"Subjects","n":"N"},{"c":"Fp14-1a","r":"Subjects","n":"4"},{"c":"Fp14-1b**","r":"Subjects","n":"3*"},{"c":"Fp14-3","r":"Subjects","n":"2"},{"c":"Fp14-3d","r":"Subjects","n":"2"},{"c":"Fp14-3/4e","r":"Subjects","n":"4"},{"c":"Fp14-3/4f","r":"Subjects","n":"5"},{"c":"Fp14-4","r":"Subjects","n":"5"},{"c":"Hp15-1","r":"Subjects","n":"1"},{"c":"Hp15-1c**","r":"Subjects","n":"4*"},{"c":"Hp15-1a**","r":"Subjects","n":"3*"},{"c":"Hp15-2","r":"Subjects","n":"2"},{"c":"Hp15-2/3a","r":"Subjects","n":"5"},{"c":"Hp15-3","r":"Subjects","n":"3"},{"c":"Sp14-1**","r":"Subjects","n":"4*"},{"c":"Sp14-1c**","r":"Subjects","n":"4*"},{"c":"Sp14-1b**","r":"Subjects","n":"3*"},{"c":"Sp14-1a","r":"Subjects","n":"4"},
  {"c":"Fp9-3","r":"Responses","n":"7"},{"c":"Fp9-3c","r":"Responses","n":"2"},{"c":"Fp9-3d","r":"Responses","n":"6"},{"c":"Fp14-1","r":"Responses","n":"N"},{"c":"Fp14-1a","r":"Responses","n":"5"},{"c":"Fp14-1b**","r":"Responses","n":"8*"},{"c":"Fp14-3","r":"Responses","n":"3"},{"c":"Fp14-3d","r":"Responses","n":"2"},{"c":"Fp14-3/4e","r":"Responses","n":"5"},{"c":"Fp14-3/4f","r":"Responses","n":"13"},{"c":"Fp14-4","r":"Responses","n":"12"},{"c":"Hp15-1","r":"Responses","n":"1"},{"c":"Hp15-1c**","r":"Responses","n":"8*"},{"c":"Hp15-1a**","r":"Responses","n":"6*"},{"c":"Hp15-2","r":"Responses","n":"2"},{"c":"Hp15-2/3a","r":"Responses","n":"10"},{"c":"Hp15-3","r":"Responses","n":"7"},{"c":"Sp14-1**","r":"Responses","n":"7*"},{"c":"Sp14-1c**","r":"Responses","n":"4*"},{"c":"Sp14-1b**","r":"Responses","n":"4*"},{"c":"Sp14-1a","r":"Responses","n":"7"}
 ],
 "boxes": [
  {"c":"Fp14-1a","k":"cyan"},{"c":"Fp14-1b**","k":"purple"},{"c":"Fp14-3/4f","k":"red"},{"c":"Hp15-1c**","k":"cyan"},{"c":"Hp15-1a**","k":"purple"},{"c":"Hp15-2/3a","k":"red"},{"c":"Sp14-1c**","k":"cyan"},{"c":"Sp14-1b**","k":"purple"},{"c":"Sp14-1a","k":"red"}
 ],
 "notN": [{"c":"Fp14-1","n":"N"}]
},
"bounds": "flush",
"spacing": 0,
"center": true,
"resolve": {"scale": {"color": "independent", "shape": "independent"}},
"vconcat": [
 {
  "width": 709, "height": 181,
  "layer": [
   {
    "layer": [
     {
      "data": {"name": "A"},
      "mark": {"type": "point", "filled": true, "size": 46, "opacity": 1},
      "encoding": {
       "x": {"field": "c", "type": "nominal", "title": null, "scale": {"type": "band", "range": [0, 342], "paddingInner": 0, "paddingOuter": 0, "domain": ["Fp9","Fp9-1","Fp9-2","Fp9-3"," ","Fp14","Fp14-1","Fp14-2","Fp14-3","Fp14-4","  ","Hp15","Hp15-1","Hp15-2","Hp15-3"]}, "axis": {"labelAngle": -45, "orient": "bottom"}},
       "y": {"field": "v", "type": "quantitative", "title": "% T cells", "scale": {"type": "log", "domain": [0.1, 100]}, "axis": {"orient": "left", "values": [0.1, 1, 10, 100], "format": "~g", "titlePadding": 6, "labelPadding": 3}},
       "shape": {"field": "t", "type": "nominal", "scale": {"domain": ["Perf","GrzA","GrzB"], "range": ["circle","square","triangle-up"]},
        "legend": {"orient": "none", "legendX": 380, "legendY": -2, "title": null, "fillColor": "#eef0de", "strokeColor": "#c9cdb0", "padding": 2, "rowPadding": -1.5, "symbolSize": 55, "symbolOffset": 9, "symbolFillColor": "transparent", "symbolStrokeColor": "#000", "symbolStrokeWidth": 1.4, "labelFontSize": 10, "labelFontWeight": "bold", "labelColor": "#111", "labelExpr": "datum.label + '        '"}},
       "color": {"field": "g", "type": "nominal", "scale": {"domain": ["LTS1/ART-","LTS2/ART-","LTS/ART+","ST/ART-","ST/ART+"], "range": ["#7f6ae8","#000000","#4592ee","#6aae2e","#ee1c25"]},
        "legend": {"orient": "none", "legendX": 380, "legendY": 37, "title": null, "fillColor": "#eef0de", "strokeColor": "#c9cdb0", "padding": 2, "rowPadding": 1.5, "symbolSize": 1, "symbolOpacity": 0, "symbolStrokeWidth": 0, "labelOffset": 4, "labelFontSize": 10, "labelFontWeight": "bold",
         "labelExpr": "datum.label == 'LTS1/ART-' || datum.label == 'LTS2/ART-' ? 'LTS / ART-' : datum.label == 'LTS/ART+' ? 'LTS / ART+' : datum.label == 'ST/ART-' ? 'ST / ART-' : 'ST / ART+'",
         "encode": {"labels": {"update": {"fill": {"signal": "datum.value == 'LTS1/ART-' ? '#7f6ae8' : datum.value == 'LTS2/ART-' ? '#000000' : datum.value == 'LTS/ART+' ? '#4592ee' : datum.value == 'ST/ART-' ? '#6aae2e' : '#ee1c25'"}}}}}}
      }
     },
     {
      "data": {"values": [{}]},
      "mark": {"type": "text", "text": "CD8⁺  T", "fontSize": 12, "fontWeight": "bold", "xOffset": 7},
      "encoding": {"x": {"datum": "Fp14-2"}, "y": {"datum": 35}}
     },
     {
      "data": {"values": [{}]},
      "mark": {"type": "point", "shape": "square", "size": 420, "filled": false, "stroke": "#333", "strokeWidth": 1.2, "opacity": 1, "xOffset": 12},
      "encoding": {"x": {"datum": "Hp15-2"}, "y": {"datum": 54}}
     },
     {
      "data": {"values": [{}]},
      "mark": {"type": "text", "text": "A", "fontSize": 13, "fontWeight": "bold", "xOffset": 12},
      "encoding": {"x": {"datum": "Hp15-2"}, "y": {"datum": 54}}
     }
    ]
   },
   {
    "layer": [
     {
      "data": {"name": "B"},
      "mark": {"type": "point", "filled": true, "size": 46, "opacity": 1},
      "encoding": {
       "x": {"field": "c", "type": "nominal", "title": null, "scale": {"type": "band", "range": [373, 703], "paddingInner": 0, "paddingOuter": 0, "domain": ["Fp9","Fp9-1","FP9-2","FP9-3"," ","Fp14","Fp14-1","Fp14-2","Fp14-3","Fp14-4","  ","Hp15","Hp15-1","Hp15-2","Hp15-3"]}, "axis": {"labelAngle": -45, "orient": "bottom"}},
       "y": {"field": "v", "type": "quantitative", "title": null, "scale": {"type": "log", "domain": [0.1, 100]}, "axis": {"orient": "left", "offset": -373, "values": [0.1, 1, 10, 100], "format": "~g", "labelPadding": 3}},
       "shape": {"field": "t", "type": "nominal"},
       "color": {"field": "g", "type": "nominal"}
      }
     },
     {
      "data": {"values": [{}]},
      "mark": {"type": "text", "text": "CD4⁺  T", "fontSize": 12, "fontWeight": "bold", "xOffset": 12},
      "encoding": {"x": {"datum": "Fp14-1"}, "y": {"datum": 36}}
     },
     {
      "data": {"values": [{}]},
      "mark": {"type": "point", "shape": "square", "size": 420, "filled": false, "stroke": "#333", "strokeWidth": 1.2, "opacity": 1, "xOffset": 7},
      "encoding": {"x": {"datum": "Hp15-2"}, "y": {"datum": 54}}
     },
     {
      "data": {"values": [{}]},
      "mark": {"type": "text", "text": "B", "fontSize": 13, "fontWeight": "bold", "xOffset": 7},
      "encoding": {"x": {"datum": "Hp15-2"}, "y": {"datum": 54}}
     }
    ]
   }
  ],
  "resolve": {"scale": {"x": "independent", "y": "independent"}, "axis": {"x": "independent", "y": "independent"}}
 },
 {
  "width": 709, "height": 85.7,
  "layer": [
   {
    "data": {"name": "tA"},
    "mark": {"type": "text", "fontSize": 10, "color": "#505050"},
    "encoding": {
     "x": {"field": "c", "type": "nominal", "scale": {"type": "band", "range": [0, 342], "paddingInner": 0, "paddingOuter": 0, "domain": ["Fp9","Fp9-1","Fp9-2","Fp9-3"," ","Fp14","Fp14-1","Fp14-2","Fp14-3","Fp14-4","  ","Hp15","Hp15-1","Hp15-2","Hp15-3"]}, "axis": null},
     "y": {"field": "r", "type": "nominal", "title": null, "scale": {"type": "band", "domain": ["Subjects","Responses"], "paddingInner": 0, "paddingOuter": 0.714, "align": 0.882},
      "axis": {"domain": false, "ticks": false, "tickSize": 0, "labelAlign": "center", "labelPadding": 28, "labelFontWeight": "normal", "labelFontSize": 9, "labelColor": "#505050", "labelBaseline": "bottom", "labelOffset": 5, "labelLineHeight": 12.5,
       "labelExpr": "datum.value == 'Subjects' ? ['No. of', 'Subjects (n=5):'] : ['Responses', '(n=18):']"}},
     "text": {"field": "n"}
    }
   },
   {
    "data": {"name": "tB"},
    "mark": {"type": "text", "fontSize": 10, "color": "#505050"},
    "encoding": {
     "x": {"field": "c", "type": "nominal", "scale": {"type": "band", "range": [373, 703], "paddingInner": 0, "paddingOuter": 0, "domain": ["Fp9","Fp9-1","FP9-2","FP9-3"," ","Fp14","Fp14-1","Fp14-2","Fp14-3","Fp14-4","  ","Hp15","Hp15-1","Hp15-2","Hp15-3"]}, "axis": null},
     "y": {"field": "r", "type": "nominal"},
     "text": {"field": "n"}
    }
   }
  ],
  "resolve": {"scale": {"x": "independent"}}
 },
 {
  "width": 543, "height": 170,
  "layer": [
   {
    "data": {"name": "C"},
    "transform": [{"filter": "datum.t != 'CD107a'"}],
    "mark": {"type": "point", "filled": true, "size": 36, "opacity": 1},
    "encoding": {
     "x": {"field": "c", "type": "nominal", "title": null, "scale": {"type": "band", "paddingInner": 0, "paddingOuter": 0, "domain": ["Fp9-3","Fp9-3c","Fp9-3d"," ","Fp14-1","Fp14-1a","Fp14-1b**","Fp14-3","Fp14-3d","Fp14-3/4e","Fp14-3/4f","Fp14-4","  ","Hp15-1","Hp15-1c**","Hp15-1a**","Hp15-2","Hp15-2/3a","Hp15-3","   ","Sp14-1**","Sp14-1c**","Sp14-1b**","Sp14-1a"]}, "axis": {"labelAngle": -45, "labelFontSize": 9.5}},
     "y": {"field": "v", "type": "quantitative", "title": "% CD4⁺ T cells", "scale": {"type": "log", "domain": [0.1, 100]},
      "axis": {"values": [0.1,0.2,0.3,0.4,0.5,0.6,0.7,0.8,0.9,1,2,3,4,5,6,7,8,9,10,20,30,40,50,60,70,80,90,100], "labelExpr": "indexof([0.1,1,10,100], datum.value) >= 0 ? datum.label : ''", "format": "~g", "labelFontSize": 9.5, "labelPadding": 3, "titlePadding": 8, "titleFontSize": 12.5,
       "tickSize": {"condition": {"test": "indexof([0.1,1,10,100], datum.value) >= 0", "value": 5}, "value": 3}, "tickWidth": 1, "labelOverlap": false}},
     "shape": {"field": "t", "type": "nominal", "scale": {"domain": ["Perf","GrzA","GrzB","CD107a"], "range": ["circle","square","triangle-up","M-1,-1L1,1M-1,1L1,-1"]},
      "legend": {"orient": "none", "legendX": 396, "legendY": -4, "title": null, "fillColor": "#eef0de", "strokeColor": "#c9cdb0", "padding": 3, "rowPadding": -1.5, "symbolSize": 50, "symbolOffset": 2, "symbolFillColor": "transparent", "symbolStrokeColor": "#000", "symbolStrokeWidth": 1.4, "labelFontSize": 10, "labelFontWeight": "bold", "labelColor": "#111", "labelExpr": "datum.label + '  '"}},
     "color": {"field": "d", "type": "nominal", "scale": {"domain": ["J02","J07","J17","J06","J12"], "range": ["#6a3bea","#ee1d2a","#000000","#3d8ff0","#6aaa28"]},
      "legend": {"orient": "none", "legendX": 396, "legendY": 47, "title": null, "columns": 2, "columnPadding": 6, "fillColor": "#eef0de", "strokeColor": "#c9cdb0", "padding": 3, "rowPadding": 0, "symbolSize": 1, "symbolOpacity": 0, "symbolStrokeWidth": 0, "labelOffset": 4, "labelFontSize": 10, "labelFontWeight": "bold",
       "labelExpr": "datum.label == 'J17' ? 'J17' : datum.label + ','",
       "encode": {"labels": {"update": {"fill": {"signal": "datum.value == 'J02' ? '#6a3bea' : datum.value == 'J06' ? '#3d8ff0' : datum.value == 'J07' ? '#ee1d2a' : datum.value == 'J12' ? '#6aaa28' : '#000000'"}}}}}}
    }
   },
   {
    "data": {"name": "C"},
    "transform": [{"filter": "datum.t == 'CD107a'"}],
    "mark": {"type": "point", "filled": false, "size": 36, "strokeWidth": 1.6, "opacity": 1},
    "encoding": {
     "x": {"field": "c", "type": "nominal"},
     "y": {"field": "v", "type": "quantitative"},
     "shape": {"field": "t", "type": "nominal"},
     "color": {"field": "d", "type": "nominal"}
    }
   },
   {
    "data": {"name": "notN"},
    "mark": {"type": "text", "fontSize": 10, "fontWeight": "bold", "color": "#333", "baseline": "bottom", "dy": -2},
    "encoding": {"x": {"field": "c", "type": "nominal"}, "y": {"datum": 0.1}, "text": {"field": "n"}}
   },
   {
    "data": {"values": [{}]},
    "mark": {"type": "point", "shape": "square", "size": 420, "filled": false, "stroke": "#333", "strokeWidth": 1.2, "opacity": 1, "xOffset": 12},
    "encoding": {"x": {"datum": "Sp14-1b**"}, "y": {"datum": 52}}
   },
   {
    "data": {"values": [{}]},
    "mark": {"type": "text", "text": "C", "fontSize": 13, "fontWeight": "bold", "xOffset": 12},
    "encoding": {"x": {"datum": "Sp14-1b**"}, "y": {"datum": 52}}
   }
  ]
 },
 {
  "width": 543, "height": 93.3,
  "layer": [
   {
    "data": {"name": "tC"},
    "mark": {"type": "text", "fontSize": 9.5, "color": "#505050"},
    "encoding": {
     "x": {"field": "c", "type": "nominal", "scale": {"type": "band", "paddingInner": 0, "paddingOuter": 0, "domain": ["Fp9-3","Fp9-3c","Fp9-3d"," ","Fp14-1","Fp14-1a","Fp14-1b**","Fp14-3","Fp14-3d","Fp14-3/4e","Fp14-3/4f","Fp14-4","  ","Hp15-1","Hp15-1c**","Hp15-1a**","Hp15-2","Hp15-2/3a","Hp15-3","   ","Sp14-1**","Sp14-1c**","Sp14-1b**","Sp14-1a"]}, "axis": null},
     "y": {"field": "r", "type": "nominal", "title": null, "scale": {"type": "band", "domain": ["Subjects","Responses"], "paddingInner": 0, "paddingOuter": 1.39, "align": 0.738},
      "axis": {"domain": false, "ticks": false, "tickSize": 0, "labelAlign": "center", "labelPadding": 25, "labelFontWeight": "normal", "labelFontSize": 7.5, "labelColor": "#505050", "labelBaseline": "bottom", "labelOffset": 4, "labelLineHeight": 11.5,
       "labelExpr": "datum.value == 'Subjects' ? ['No. of', 'Subjects (n=4*/5):'] : ['No. of Responses', '(n=16*/20):']"}},
     "text": {"field": "n"}
    }
   },
   {
    "data": {"name": "boxes"},
    "mark": {"type": "rect", "fillOpacity": 0, "strokeDash": [3, 2], "strokeWidth": 1.3, "width": {"band": 0.84}},
    "encoding": {
     "x": {"field": "c", "type": "nominal"},
     "y": {"datum": 0.45, "type": "quantitative", "scale": {"domain": [0, 1], "reverse": true}, "axis": null},
     "y2": {"datum": 0.815},
     "stroke": {"field": "k", "type": "nominal", "scale": {"domain": ["cyan","purple","red"], "range": ["#33c8e8","#7a3ae0","#e0243a"]}, "legend": null}
    }
   }
  ],
  "resolve": {"scale": {"y": "independent"}}
 },
 {
  "width": 543, "height": 170,
  "layer": [
   {
    "data": {"name": "D"},
    "transform": [{"filter": "datum.t != 'CD107a'"}],
    "mark": {"type": "point", "filled": true, "size": 36, "opacity": 1},
    "encoding": {
     "x": {"field": "c", "type": "nominal", "title": null, "scale": {"type": "band", "paddingInner": 0, "paddingOuter": 0, "domain": ["Fp9-3","Fp9-3c","Fp9-3d"," ","Fp14-1","Fp14-1a","Fp14-1b**","Fp14-3","Fp14-3d","Fp14-3/4e","Fp14-3/4f","Fp14-4","  ","Hp15-1","Hp15-1c**","Hp15-1a**","Hp15-2","Hp15-2/3a","Hp15-3","   ","Sp14-1**","Sp14-1c**","Sp14-1b**","Sp14-1a"]}, "axis": {"labelAngle": -45, "labelFontSize": 9.5}},
     "y": {"field": "v", "type": "quantitative", "title": "% CD8⁺ T cells", "scale": {"type": "log", "domain": [0.1, 100]},
      "axis": {"values": [0.1,0.2,0.3,0.4,0.5,0.6,0.7,0.8,0.9,1,2,3,4,5,6,7,8,9,10,20,30,40,50,60,70,80,90,100], "labelExpr": "indexof([0.1,1,10,100], datum.value) >= 0 ? datum.label : ''", "format": "~g", "labelFontSize": 9.5, "labelPadding": 3, "titlePadding": 8, "titleFontSize": 12.5,
       "tickSize": {"condition": {"test": "indexof([0.1,1,10,100], datum.value) >= 0", "value": 5}, "value": 3}, "tickWidth": 1, "labelOverlap": false}},
     "shape": {"field": "t", "type": "nominal", "scale": {"domain": ["Perf","GrzA","GrzB","CD107a"], "range": ["circle","square","triangle-up","M-1,-1L1,1M-1,1L1,-1"]}, "legend": null},
     "color": {"field": "d", "type": "nominal", "scale": {"domain": ["J02","J06","J07","J12","J17"], "range": ["#6a3bea","#3d8ff0","#ee1d2a","#6aaa28","#000000"]}, "legend": null}
    }
   },
   {
    "data": {"name": "D"},
    "transform": [{"filter": "datum.t == 'CD107a'"}],
    "mark": {"type": "point", "filled": false, "size": 36, "strokeWidth": 1.6, "opacity": 1},
    "encoding": {
     "x": {"field": "c", "type": "nominal"},
     "y": {"field": "v", "type": "quantitative"},
     "shape": {"field": "t", "type": "nominal"},
     "color": {"field": "d", "type": "nominal"}
    }
   },
   {
    "data": {"name": "notN"},
    "mark": {"type": "text", "fontSize": 10, "fontWeight": "bold", "color": "#333", "baseline": "bottom", "dy": -2},
    "encoding": {"x": {"field": "c", "type": "nominal"}, "y": {"datum": 0.1}, "text": {"field": "n"}}
   },
   {
    "data": {"values": [{}]},
    "mark": {"type": "point", "shape": "square", "size": 400, "filled": false, "stroke": "#333", "strokeWidth": 1.2, "opacity": 1, "xOffset": 9},
    "encoding": {"x": {"datum": "Sp14-1b**"}, "y": {"datum": 71}}
   },
   {
    "data": {"values": [{}]},
    "mark": {"type": "text", "text": "D", "fontSize": 13, "fontWeight": "bold", "xOffset": 9},
    "encoding": {"x": {"datum": "Sp14-1b**"}, "y": {"datum": 71}}
   }
  ]
 },
 {
  "width": 543, "height": 86,
  "layer": [
   {
    "data": {"name": "tD"},
    "mark": {"type": "text", "fontSize": 9.5, "color": "#505050"},
    "encoding": {
     "x": {"field": "c", "type": "nominal", "scale": {"type": "band", "paddingInner": 0, "paddingOuter": 0, "domain": ["Fp9-3","Fp9-3c","Fp9-3d"," ","Fp14-1","Fp14-1a","Fp14-1b**","Fp14-3","Fp14-3d","Fp14-3/4e","Fp14-3/4f","Fp14-4","  ","Hp15-1","Hp15-1c**","Hp15-1a**","Hp15-2","Hp15-2/3a","Hp15-3","   ","Sp14-1**","Sp14-1c**","Sp14-1b**","Sp14-1a"]}, "axis": null},
     "y": {"field": "r", "type": "nominal", "title": null, "scale": {"type": "band", "domain": ["Subjects","Responses"], "paddingInner": 0, "paddingOuter": 1.15, "align": 0.913},
      "axis": {"domain": false, "ticks": false, "tickSize": 0, "labelAlign": "center", "labelPadding": 25, "labelFontWeight": "normal", "labelFontSize": 7.5, "labelColor": "#505050", "labelBaseline": "bottom", "labelOffset": 4, "labelLineHeight": 11.5,
       "labelExpr": "datum.value == 'Subjects' ? ['No. of', 'Subjects (n=4*/5):'] : ['No. of Responses', '(n=16*/20):']"}},
     "text": {"field": "n"}
    }
   },
   {
    "data": {"name": "boxes"},
    "mark": {"type": "rect", "fillOpacity": 0, "strokeDash": [3, 2], "strokeWidth": 1.3, "width": {"band": 0.84}},
    "encoding": {
     "x": {"field": "c", "type": "nominal"},
     "y": {"datum": 0.523, "type": "quantitative", "scale": {"domain": [0, 1], "reverse": true}, "axis": null},
     "y2": {"datum": 0.919},
     "stroke": {"field": "k", "type": "nominal", "scale": {"domain": ["cyan","purple","red"], "range": ["#33c8e8","#7a3ae0","#e0243a"]}, "legend": null}
    }
   }
  ],
  "resolve": {"scale": {"y": "independent"}}
 }
]
}
